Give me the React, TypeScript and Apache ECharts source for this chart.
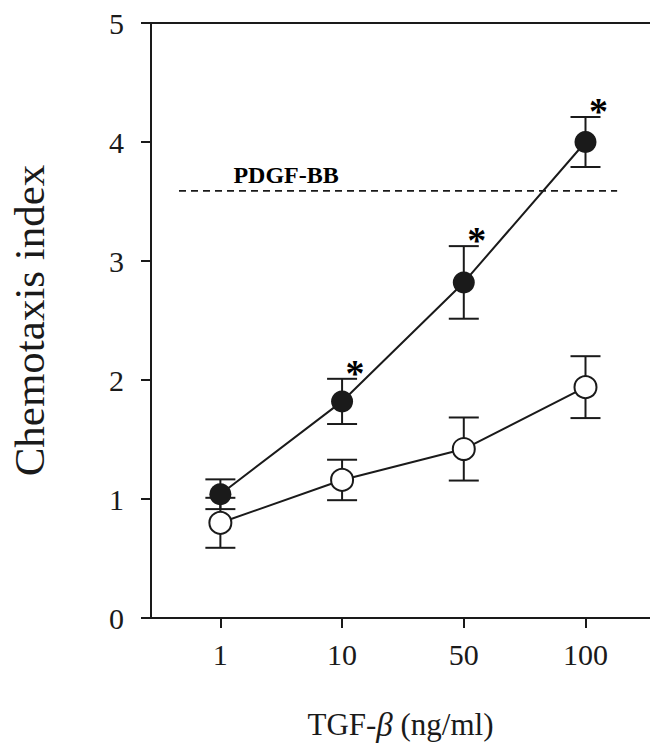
import React, { useEffect, useRef } from "react";
import * as echarts from "echarts";

const categories = ["1", "10", "50", "100"];
const xIndex = [0, 1, 2, 3];
const filledMean = [1.04, 1.82, 2.82, 4.0];
const filledErr = [0.125, 0.19, 0.305, 0.21];
const openMean = [0.8, 1.16, 1.42, 1.94];
const openErr = [0.21, 0.17, 0.265, 0.26];
const significant = [false, true, true, true];
const pdgfValue = 3.59;
const pdgfSpan = [-0.34, 3.26];
const pdgfLabelX = 0.54;
const pdgfLabel = "PDGF-BB";
const yMin = 0;
const yMax = 5;

const INK = "#1a1a1a";
const FONT = "'Liberation Serif', 'Times New Roman', serif";

export default function App() {
  const ref = useRef<HTMLDivElement>(null);

  useEffect(() => {
    if (!ref.current) return;
    const chart = echarts.init(ref.current, undefined, { renderer: "svg" });

    const errorRender = (params: any, api: any) => {
      const x = api.value(0);
      const m = api.value(1);
      const e = api.value(2);
      const top = api.coord([x, m + e]);
      const bot = api.coord([x, m - e]);
      const hw = 15;
      const st = { stroke: INK, lineWidth: 2 };
      return {
        type: "group",
        children: [
          { type: "line", shape: { x1: top[0], y1: top[1], x2: bot[0], y2: bot[1] }, style: st },
          { type: "line", shape: { x1: top[0] - hw, y1: top[1], x2: top[0] + hw, y2: top[1] }, style: st },
          { type: "line", shape: { x1: bot[0] - hw, y1: bot[1], x2: bot[0] + hw, y2: bot[1] }, style: st },
        ],
      };
    };

    const option: any = {
      animation: false,
      backgroundColor: "#ffffff",
      textStyle: { fontFamily: FONT, color: INK },
      grid: { left: 145, right: 0, top: 23, bottom: 124, containLabel: false },
      xAxis: [
        {
          type: "value",
          min: -0.57,
          max: 3.53,
          position: "bottom",
          name: "TGF-{b|β} (ng/ml)",
          nameLocation: "middle",
          nameGap: 90,
          nameTextStyle: {
            fontFamily: FONT,
            fontSize: 31,
            color: INK,
            rich: { b: { fontFamily: FONT, fontSize: 33, fontStyle: "italic", color: INK } },
          },
          axisLine: { show: true, onZero: false, lineStyle: { color: INK, width: 2 } },
          axisTick: { show: true, length: 10, customValues: xIndex, lineStyle: { color: INK, width: 2 } },
          axisLabel: {
            show: true,
            customValues: xIndex,
            margin: 21,
            fontFamily: FONT,
            fontSize: 30,
            color: INK,
            formatter: (v: number) => categories[Math.round(v)] ?? "",
          },
          splitLine: { show: false },
        },
        {
          type: "value",
          min: -0.57,
          max: 3.53,
          position: "top",
          axisLine: { show: true, onZero: false, lineStyle: { color: INK, width: 2 } },
          axisTick: { show: false },
          axisLabel: { show: false },
          splitLine: { show: false },
        },
      ],
      yAxis: {
        type: "value",
        min: yMin,
        max: yMax,
        interval: 1,
        name: "Chemotaxis index",
        nameLocation: "middle",
        nameGap: 100,
        nameTextStyle: { fontFamily: FONT, fontSize: 43, color: INK },
        axisLine: { show: true, onZero: false, lineStyle: { color: INK, width: 2 } },
        axisTick: { show: true, length: 10, lineStyle: { color: INK, width: 2 } },
        axisLabel: { margin: 27, fontFamily: FONT, fontSize: 30, color: INK },
        splitLine: { show: false },
      },
      series: [
        {
          type: "custom",
          name: "open-err",
          z: 1,
          renderItem: errorRender,
          data: xIndex.map((x, i) => [x, openMean[i], openErr[i]]),
          encode: { x: 0, y: 1 },
        },
        {
          type: "custom",
          name: "filled-err",
          z: 1,
          renderItem: errorRender,
          data: xIndex.map((x, i) => [x, filledMean[i], filledErr[i]]),
          encode: { x: 0, y: 1 },
        },
        {
          type: "line",
          name: "open",
          z: 3,
          data: xIndex.map((x, i) => [x, openMean[i]]),
          symbol: "circle",
          symbolSize: 22,
          showAllSymbol: true,
          lineStyle: { color: INK, width: 2 },
          itemStyle: { color: "#ffffff", borderColor: INK, borderWidth: 2 },
        },
        {
          type: "line",
          name: "filled",
          z: 4,
          data: xIndex.map((x, i) => [x, filledMean[i]]),
          symbol: "circle",
          symbolSize: 22,
          showAllSymbol: true,
          lineStyle: { color: INK, width: 2 },
          itemStyle: { color: INK, borderColor: INK, borderWidth: 0 },
        },
        {
          type: "line",
          name: "PDGF-BB",
          z: 2,
          data: pdgfSpan.map((x) => [x, pdgfValue]),
          symbol: "none",
          lineStyle: { color: INK, width: 1.8, type: [7, 5] },
        },
        {
          type: "scatter",
          name: "pdgf-label",
          z: 5,
          symbolSize: 0,
          itemStyle: { opacity: 1 },
          data: [[pdgfLabelX, pdgfValue]],
          label: {
            show: true,
            position: "top",
            distance: 4,
            formatter: pdgfLabel,
            fontFamily: FONT,
            fontSize: 24,
            fontWeight: "bold",
            color: "#000000",
            opacity: 1,
          },
        },
        {
          type: "scatter",
          name: "significance",
          z: 5,
          symbolSize: 0,
          itemStyle: { opacity: 1 },
          data: xIndex
            .filter((_, i) => significant[i])
            .map((x) => [x, filledMean[x] + filledErr[x]]),
          label: {
            show: true,
            position: "inside",
            offset: [13, -6],
            formatter: "*",
            fontFamily: FONT,
            fontSize: 38,
            fontWeight: "bold",
            color: "#000000",
            opacity: 1,
          },
        },
      ],
    };

    chart.setOption(option);
    return () => chart.dispose();
  }, []);

  return (
    <div
      ref={ref}
      style={{ position: "absolute", left: 0, top: 0, width: 650, height: 746, background: "#fff" }}
    />
  );
}
